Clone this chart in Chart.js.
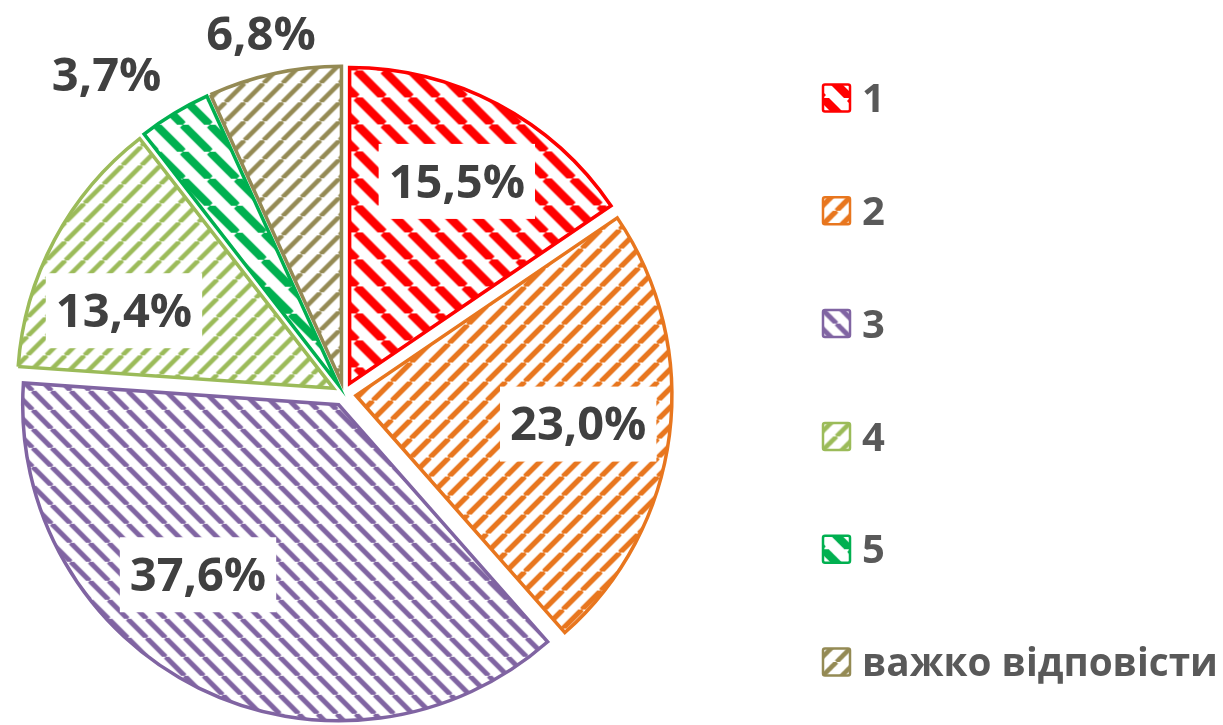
<!DOCTYPE html>
<html><head><meta charset="utf-8">
<script src="https://cdn.jsdelivr.net/npm/chart.js@4.4.1/dist/chart.umd.min.js"></script>
<style>html,body{margin:0;padding:0;background:#fff;overflow:hidden}#wrap{width:1223px;height:725px;position:relative}</style>
</head><body><div id="wrap"><canvas id="c" width="1223" height="725"></canvas></div>
<script>
// ---- data ----
const categories = ['1', '2', '3', '4', '5', 'важко відповісти'];
const values = [15.5, 23.0, 37.6, 13.4, 3.7, 6.8];
const valueLabels = ['15,5%', '23,0%', '37,6%', '13,4%', '3,7%', '6,8%'];

// ---- styles ----
const colors = ['#FF0000', '#E8761E', '#8064A2', '#9BBB59', '#00B050', '#948A54'];
const hatchDir = ['\\', '/', '\\', '/', '\\', '/'];
const hatchPeriod = [27, 19, 19, 19, 27, 19];
const hatchWidth = [8.5, 5.3, 5, 4.6, 8, 4.6];
// label placement: fraction along slice angle, fraction of radius
const labelT = [0.5, 0.5, 0.594, 0.35, 0.09, 0.47];
const labelR = [0.763, 0.747, 0.734, 0.745, 1.26, 1.17];
const EXPLODE = 12;

function makeHatch(color, dir, P, w) {
  const c = document.createElement('canvas');
  c.width = P; c.height = P;
  const g = c.getContext('2d');
  g.fillStyle = '#fff'; g.fillRect(0, 0, P, P);
  g.strokeStyle = color; g.lineWidth = w;
  g.beginPath();
  for (let k = -1; k <= 1; k++) {
    if (dir === '\\') { g.moveTo(k * P, 0); g.lineTo(k * P + P, P); }
    else { g.moveTo(k * P, P); g.lineTo(k * P + P, 0); }
  }
  g.stroke();
  return g.createPattern(c, 'repeat');
}
const patterns = colors.map((c, i) => makeHatch(c, hatchDir[i], hatchPeriod[i], hatchWidth[i]));

const explodePlugin = {
  id: 'explode',
  beforeDatasetsDraw(chart) {
    const ctx = chart.ctx;
    const meta = chart.getDatasetMeta(0);
    meta.data.forEach(arc => {
      const mid = (arc.startAngle + arc.endAngle) / 2;
      ctx.save();
      ctx.translate(Math.cos(mid) * EXPLODE, Math.sin(mid) * EXPLODE);
      arc.draw(ctx);
      ctx.restore();
    });
    return false;
  }
};

const LABEL_FONT = 47;
const LEG_FONT = 40;
const labelPlugin = {
  id: 'labelsAndLegend',
  afterDraw(chart) {
    const ctx = chart.ctx;
    const meta = chart.getDatasetMeta(0);
    ctx.save();
    ctx.font = 'bold ' + LABEL_FONT + 'px "Open Sans"';
    ctx.textAlign = 'center';
    ctx.textBaseline = 'alphabetic';
    meta.data.forEach((arc, i) => {
      const a = arc.startAngle + labelT[i] * (arc.endAngle - arc.startAngle);
      const r = labelR[i] * arc.outerRadius;
      const x = arc.x + Math.cos(a) * r;
      const y = arc.y + Math.sin(a) * r;
      const txt = valueLabels[i];
      const tw = ctx.measureText(txt).width;
      if (labelR[i] < 1) {
        ctx.fillStyle = '#fff';
        ctx.fillRect(x - tw / 2 - 10, y - 37, tw + 20, 75);
      }
      ctx.fillStyle = '#404040';
      ctx.fillText(txt, x, y + 0.357 * LABEL_FONT);
    });
    // legend
    const lx = 822, ly0 = 98, step = 112.8, bs = 29;
    ctx.textAlign = 'left';
    ctx.font = 'bold ' + LEG_FONT + 'px "Open Sans"';
    categories.forEach((cat, i) => {
      const cy = ly0 + i * step;
      ctx.save();
      ctx.translate(lx + bs / 2, cy);
      if (hatchPeriod[i] > 20) ctx.translate(hatchPeriod[i] / 2, 0);
      const ox = (hatchPeriod[i] > 20) ? -hatchPeriod[i] / 2 : 0;
      ctx.beginPath();
      if (ctx.roundRect) ctx.roundRect(ox - bs / 2 + 1, -bs / 2 + 1, bs - 2, bs - 2, 2);
      else ctx.rect(ox - bs / 2 + 1, -bs / 2 + 1, bs - 2, bs - 2);
      ctx.fillStyle = patterns[i];
      ctx.fill();
      ctx.lineWidth = 2.5;
      ctx.strokeStyle = colors[i];
      ctx.stroke();
      ctx.restore();
      ctx.fillStyle = '#595959';
      ctx.fillText(cat, 862, cy + 0.357 * LEG_FONT, 356);
    });
    ctx.restore();
  }
};

new Chart(document.getElementById('c'), {
  type: 'pie',
  data: {
    labels: categories,
    datasets: [{
      data: values,
      backgroundColor: patterns,
      borderColor: colors,
      borderWidth: 3.5,
      borderJoinStyle: 'miter',
      hoverOffset: 0
    }]
  },
  options: {
    responsive: false,
    animation: false,
    devicePixelRatio: 1,
    radius: 316,
    layout: { padding: { left: 0, right: 535, top: 63, bottom: 0 } },
    plugins: { legend: { display: false }, tooltip: { enabled: false } },
    events: []
  },
  plugins: [explodePlugin, labelPlugin]
});
</script>
</body></html>
